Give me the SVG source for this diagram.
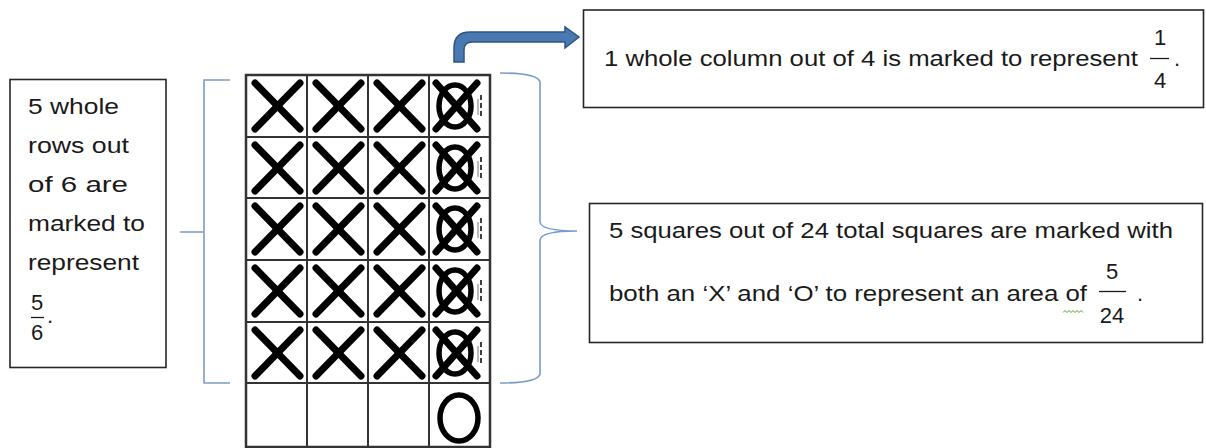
<svg xmlns="http://www.w3.org/2000/svg" width="1206" height="448" viewBox="0 0 1206 448">
<style>
.box{fill:#fff;stroke:#262626;stroke-width:1.6}
.t{font-family:"Liberation Sans",Arial,sans-serif;font-size:22px;fill:#1a1a1a}
.grid{stroke:#333;stroke-width:2;fill:none}
.x{stroke:#000;stroke-width:7;stroke-linecap:round;fill:none}
.o{stroke:#000;stroke-width:5.5;fill:none}
.br{stroke:#7a9cc9;stroke-width:1.6;fill:none}
.fl{stroke:#1a1a1a;stroke-width:1.3}
</style>
<defs>
<g id="xm"><line class="x" x1="9" y1="8" x2="54" y2="54"/><line class="x" x1="54" y1="8" x2="9" y2="54"/></g>
<g id="xo"><line class="x" x1="7" y1="8" x2="48" y2="54"/><line class="x" x1="48" y1="8" x2="7" y2="54"/><ellipse class="o" cx="26" cy="31" rx="16" ry="21"/><line x1="52" y1="20" x2="52" y2="44" stroke="#000" stroke-width="1.5" stroke-dasharray="5 3"/><line x1="49" y1="24" x2="49" y2="40" stroke="#777" stroke-width="1"/></g>
</defs>

<g id="left-note">
<rect class="box" x="10" y="79.5" width="156" height="288"/>
<text class="t" x="28" y="114" textLength="91" lengthAdjust="spacingAndGlyphs">5 whole</text>
<text class="t" x="28" y="153" textLength="101" lengthAdjust="spacingAndGlyphs">rows out</text>
<text class="t" x="28" y="192" textLength="100" lengthAdjust="spacingAndGlyphs">of 6 are</text>
<text class="t" x="28" y="231" textLength="117" lengthAdjust="spacingAndGlyphs">marked to</text>
<text class="t" x="28" y="270" textLength="111" lengthAdjust="spacingAndGlyphs">represent</text>
<text class="t" x="37" y="310" text-anchor="middle">5</text>
<line class="fl" x1="31" y1="317.5" x2="44" y2="317.5"/>
<text class="t" x="37" y="340" text-anchor="middle">6</text>
<text class="t" x="47" y="323">.</text>
</g>

<g id="grid">
<rect x="246" y="75" width="244" height="372" fill="#fff" stroke="#333" stroke-width="2.5"/>
<path class="grid" d="M307 75V448M368 75V448M429 75V448M246 137H490M246 198H490M246 260H490M246 322H490M246 383H490"/>
<use href="#xm" x="246" y="75"/><use href="#xm" x="307" y="75"/><use href="#xm" x="368" y="75"/><use href="#xo" x="429" y="75"/>
<use href="#xm" x="246" y="137"/><use href="#xm" x="307" y="137"/><use href="#xm" x="368" y="137"/><use href="#xo" x="429" y="137"/>
<use href="#xm" x="246" y="198"/><use href="#xm" x="307" y="198"/><use href="#xm" x="368" y="198"/><use href="#xo" x="429" y="198"/>
<use href="#xm" x="246" y="260"/><use href="#xm" x="307" y="260"/><use href="#xm" x="368" y="260"/><use href="#xo" x="429" y="260"/>
<use href="#xm" x="246" y="322"/><use href="#xm" x="307" y="322"/><use href="#xm" x="368" y="322"/><use href="#xo" x="429" y="322"/>
<ellipse class="o" cx="459" cy="418" rx="19" ry="23"/>
</g>

<g id="top-note">
<rect class="box" x="583.5" y="10" width="620" height="97.5"/>
<text class="t" x="604" y="66" textLength="534" lengthAdjust="spacingAndGlyphs">1 whole column out of 4 is marked to represent</text>
<text class="t" x="1160" y="45" text-anchor="middle">1</text>
<line class="fl" x1="1150" y1="58.5" x2="1169" y2="58.5"/>
<text class="t" x="1160" y="88" text-anchor="middle">4</text>
<text class="t" x="1174" y="66">.</text>
</g>

<g id="area-note">
<rect class="box" x="589.5" y="203.5" width="613" height="139"/>
<text class="t" x="609" y="238" textLength="564" lengthAdjust="spacingAndGlyphs">5 squares out of 24 total squares are marked with</text>
<text class="t" x="609" y="301" textLength="478" lengthAdjust="spacingAndGlyphs">both an ‘X’ and ‘O’ to represent an area of</text>
<path d="M1063 312.5l2-2 2 2 2-2 2 2 2-2 2 2 2-2 2 2 2-2 2 2" stroke="#5aa02c" stroke-width="1" fill="none"/>
<text class="t" x="1112" y="279" text-anchor="middle">5</text>
<line class="fl" x1="1099" y1="291.5" x2="1126" y2="291.5"/>
<text class="t" x="1112" y="323" text-anchor="middle">24</text>
<text class="t" x="1137" y="301">.</text>
</g>

<g id="connectors">
<path class="br" d="M230 80H204V383H230M180 232H204"/>
<path class="br" d="M500 73Q538 73 540 82V222Q541 231 577 231Q541 231 540 240V374Q538 383 500 383"/>
<path d="M454 62V48Q454 32 470 32H565V27L579 37L565 48V42H472Q464 42 464 50V62Z" fill="#4a78b0" stroke="#2d5585" stroke-width="1.5"/>
</g>
</svg>
